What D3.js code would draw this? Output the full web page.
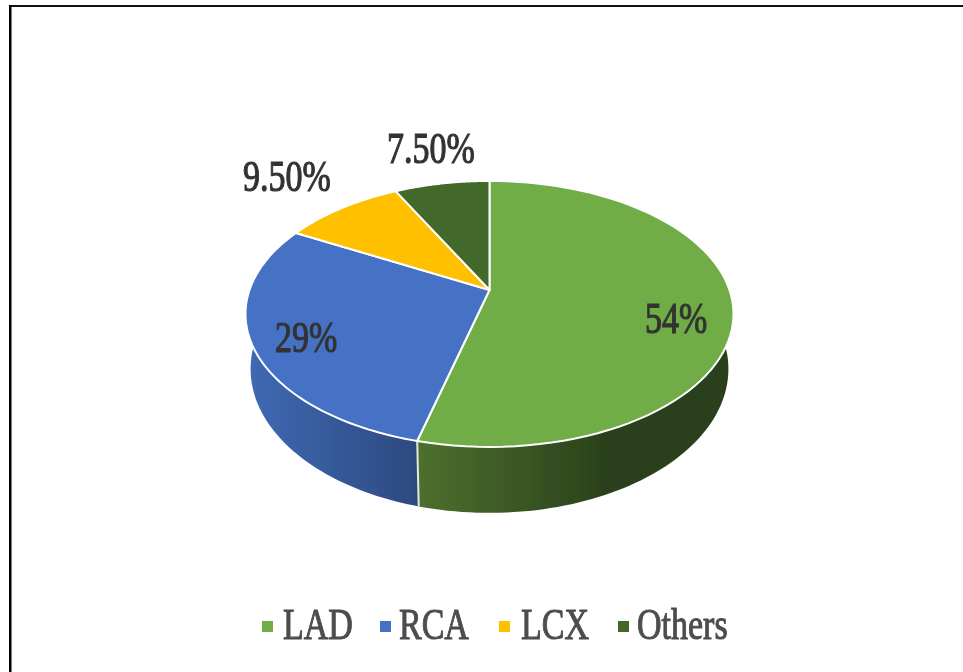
<!DOCTYPE html>
<html>
<head>
	<meta charset="utf-8" />
	<style>
		body {
			margin: 0;
			background: #fff;
			overflow: hidden;
		}
		text {
			font-family: 'Liberation Serif', serif;
			font-size: 34px;
		}
	</style>
</head>
<body>
	<svg id="chart" width="963" height="672"></svg>
	<script src="https://cdnjs.cloudflare.com/ajax/libs/d3/7.8.5/d3.min.js"></script>
	<script>
		var categories = ['LAD', 'RCA', 'LCX', 'Others'];
		var values = [54, 29, 9.5, 7.5];
		var labels = ['54%', '29%', '9.50%', '7.50%'];
		var colors = ['#70ad47', '#4472c4', '#ffc000', '#43682b'];

		// where each thing sits on the page, not data
		var labelPos = [[645, 333], [275, 352], [243, 191], [387, 163]];
		var legendSwatchX = [262, 380, 499, 618];
		var legendTextX = [283, 399, 521, 637];

		var svg = d3.select('#chart');
		var defs = svg.append('defs');

		defs.append('filter').attr('id', 'soft')
			.append('feGaussianBlur').attr('stdDeviation', 0.7);

		function sideGradient(id, x1, x2, from, to) {
			var g = defs.append('linearGradient').attr('id', id)
				.attr('gradientUnits', 'userSpaceOnUse')
				.attr('x1', x1).attr('x2', x2).attr('y1', 0).attr('y2', 0);
			g.append('stop').attr('offset', 0).attr('stop-color', from);
			g.append('stop').attr('offset', 1).attr('stop-color', to);
		}
		sideGradient('side-lad', 417, 610, '#4d702e', '#2a401b');
		sideGradient('side-rca', 250, 417, '#3f69b3', '#2c4a80');

		// the pie lies tilted, so the far half is squeezed (perspective)
		var persp = 0.18;
		var cx = 489.5;
		var apexY = 290;
		function ring(centerY, rx, ry) {
			return function (a) {
				var x = Math.sin(a), y = Math.cos(a), w = 1 + persp * y;
				return [cx + rx * x / w, centerY - ry * y / w];
			};
		}
		var topRing = ring(apexY, 240, 128.7);
		var bottomRing = ring(343, 235, 139.3);

		var arcs = d3.pie().sort(null)(values);
		var line = d3.line();

		function sweep(a0, a1, fn) {
			return d3.range(0, 81).map(i => fn(a0 + (a1 - a0) * i / 80));
		}

		var chart = svg.append('g').attr('filter', 'url(#soft)');

		// rim of the two front slices
		var sides = [
			{ a0: Math.PI * 0.42, a1: arcs[0].endAngle, fill: 'url(#side-lad)' },
			{ a0: arcs[1].startAngle, a1: Math.PI * 1.6, fill: 'url(#side-rca)' },
		];
		chart.selectAll('.side')
			.data(sides)
			.join('path')
			.attr('class', 'side')
			.attr('fill', d => d.fill)
			.attr('d', d => line(sweep(d.a0, d.a1, topRing).concat(sweep(d.a1, d.a0, bottomRing))) + 'Z');

		chart.append('path')
			.attr('fill', 'none')
			.attr('stroke', '#e4e9dd')
			.attr('stroke-width', 2)
			.attr('d', line([topRing(arcs[0].endAngle), bottomRing(arcs[0].endAngle)]));

		chart.selectAll('.slice')
			.data(arcs)
			.join('path')
			.attr('class', 'slice')
			.attr('fill', (d, i) => colors[i])
			.attr('stroke', '#fff')
			.attr('stroke-width', 2)
			.attr('stroke-linejoin', 'round')
			.attr('d', d => line([[cx, apexY]].concat(sweep(d.startAngle, d.endAngle, topRing))) + 'Z');

		var texts = svg.append('g').attr('filter', 'url(#soft)');

		texts.selectAll('.label')
			.data(labels)
			.join('text')
			.attr('class', 'label')
			.attr('fill', '#333')
			.attr('stroke', '#333')
			.attr('stroke-width', 0.9)
			.attr('transform', (d, i) => `translate(${labelPos[i][0]},${labelPos[i][1]}) scale(1,1.32)`)
			.text(d => d);

		texts.selectAll('.legend-swatch')
			.data(categories)
			.join('rect')
			.attr('class', 'legend-swatch')
			.attr('x', (d, i) => legendSwatchX[i])
			.attr('y', 621)
			.attr('width', 11)
			.attr('height', 11)
			.attr('fill', (d, i) => colors[i]);

		texts.selectAll('.legend-text')
			.data(categories)
			.join('text')
			.attr('class', 'legend-text')
			.attr('fill', '#4d4d4d')
			.attr('stroke', '#4d4d4d')
			.attr('stroke-width', 0.8)
			.attr('transform', (d, i) => `translate(${legendTextX[i]},639) scale(1,1.28)`)
			.text(d => d);

		// frame, only top and left are in the picture
		svg.append('rect').attr('x', 9).attr('y', 5).attr('width', 954).attr('height', 2).attr('fill', '#111');
		svg.append('rect').attr('x', 9).attr('y', 5).attr('width', 2.5).attr('height', 667).attr('fill', '#000');
	</script>
</body>
</html>
